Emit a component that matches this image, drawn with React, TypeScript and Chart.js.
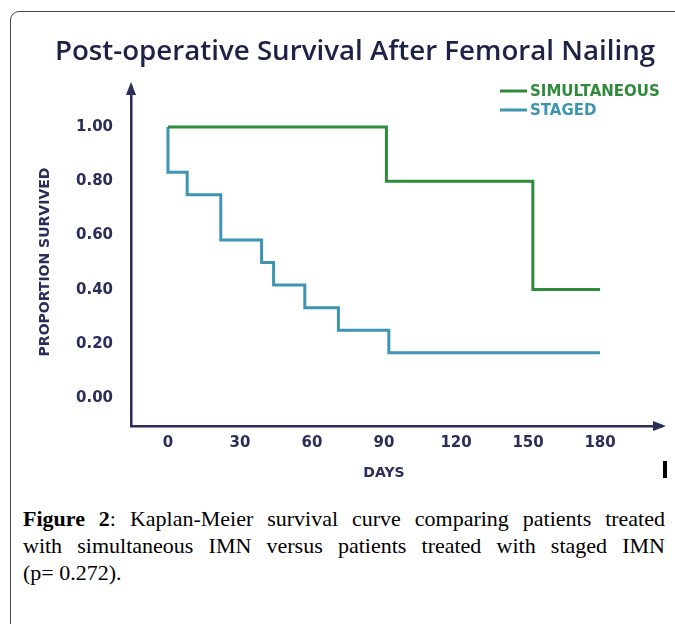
import React, { useEffect, useRef } from "react";
import { Chart, registerables } from "chart.js";

Chart.register(...registerables);

const chartTitle = "Post-operative Survival After Femoral Nailing";
const xAxisTitle = "DAYS";
const yAxisTitle = "PROPORTION SURVIVED";
const xTickValues = [0, 30, 60, 90, 120, 150, 180];
const yTickValues = [0, 0.2, 0.4, 0.6, 0.8, 1.0];
const seriesLabels = ["SIMULTANEOUS", "STAGED"];
const simultaneousDays = [0, 91, 152, 180];
const simultaneousSurvival = [1.0, 0.8, 0.4, 0.4];
const stagedDays = [0, 0, 8, 22, 39, 44, 57, 71, 92, 180];
const stagedSurvival = [1.0, 0.833, 0.75, 0.583, 0.5, 0.417, 0.333, 0.25, 0.167, 0.167];

const AXIS = "#2b2d5a";
const TITLE = "#1f2247";
const GREEN = "#2f8a3b";
const TEAL = "#3e95b2";
const FONT = '"DejaVu Sans", sans-serif';

const decorPlugin = {
  id: "decor",
  afterDraw(chart: any) {
    const { ctx, chartArea: a } = chart;
    ctx.save();
    ctx.fillStyle = AXIS;
    // y-axis arrow
    ctx.beginPath();
    ctx.moveTo(a.left, a.top - 4);
    ctx.lineTo(a.left - 5, a.top + 9);
    ctx.lineTo(a.left + 5, a.top + 9);
    ctx.closePath();
    ctx.fill();
    // x-axis arrow
    ctx.beginPath();
    ctx.moveTo(a.right + 4, a.bottom);
    ctx.lineTo(a.right - 9, a.bottom - 5);
    ctx.lineTo(a.right - 9, a.bottom + 5);
    ctx.closePath();
    ctx.fill();

    // axis titles
    ctx.font = "bold 14px " + FONT;
    ctx.fillStyle = AXIS;
    ctx.textAlign = "center";
    ctx.textBaseline = "middle";
    ctx.fillText(xAxisTitle, 384, 473);
    ctx.save();
    ctx.translate(45, 262);
    ctx.rotate(-Math.PI / 2);
    ctx.fillText(yAxisTitle, 0, 0);
    ctx.restore();

    // title, fitted to the width it has in the figure
    let size = 27;
    ctx.font = `600 ${size}px "Open Sans", sans-serif`;
    const w = ctx.measureText(chartTitle).width;
    size = Math.min(30, Math.max(22, (size * 600) / w));
    ctx.font = `600 ${size.toFixed(1)}px "Open Sans", sans-serif`;
    ctx.fillStyle = TITLE;
    ctx.textAlign = "center";
    ctx.textBaseline = "middle";
    ctx.fillText(chartTitle, 355, 52);

    // legend
    chart.data.datasets.forEach((ds: any, i: number) => {
      const y = 91 + i * 19;
      ctx.strokeStyle = ds.borderColor;
      ctx.lineWidth = 3;
      ctx.beginPath();
      ctx.moveTo(500, y);
      ctx.lineTo(527, y);
      ctx.stroke();
      ctx.fillStyle = ds.borderColor;
      ctx.font = "bold 15px " + FONT;
      ctx.textAlign = "left";
      ctx.textBaseline = "middle";
      ctx.fillText(ds.label, 530, y + 1);
    });
    ctx.restore();
  },
};

export default function App() {
  const ref = useRef<HTMLCanvasElement>(null);

  useEffect(() => {
    if (!ref.current) return;
    const chart = new Chart(ref.current, {
      type: "line",
      data: {
        datasets: [
          {
            label: seriesLabels[0],
            data: simultaneousDays.map((d, i) => ({ x: d, y: simultaneousSurvival[i] })),
            borderColor: GREEN,
            backgroundColor: GREEN,
            borderWidth: 3,
            stepped: "before",
            pointRadius: 0,
            fill: false,
            borderJoinStyle: "miter",
          },
          {
            label: seriesLabels[1],
            data: stagedDays.map((d, i) => ({ x: d, y: stagedSurvival[i] })),
            borderColor: TEAL,
            backgroundColor: TEAL,
            borderWidth: 3,
            stepped: "before",
            pointRadius: 0,
            fill: false,
            borderJoinStyle: "miter",
          },
        ],
      },
      options: {
        responsive: false,
        animation: false,
        events: [],
        layout: { padding: { top: 86, right: 13, left: 0, bottom: 0 } },
        plugins: {
          legend: { display: false },
          title: { display: false },
          tooltip: { enabled: false },
        },
        scales: {
          x: {
            type: "linear",
            min: -15.4,
            max: 205.8,
            afterFit: (s: any) => {
              s.height = 74;
            },
            afterBuildTicks: (s: any) => {
              s.ticks = xTickValues.map((v) => ({ value: v }));
            },
            grid: { display: false, drawTicks: false },
            border: { display: true, color: AXIS, width: 2.5 },
            ticks: {
              padding: 8,
              color: AXIS,
              font: { family: FONT, weight: "bold", size: 15 },
              callback: (v: any) => String(v),
              maxRotation: 0,
            },
            title: { display: false, text: xAxisTitle },
          },
          y: {
            type: "linear",
            min: -0.103,
            max: 1.151,
            afterFit: (s: any) => {
              s.width = 131;
            },
            afterBuildTicks: (s: any) => {
              s.ticks = yTickValues.map((v) => ({ value: v }));
            },
            grid: { display: false, drawTicks: false },
            border: { display: true, color: AXIS, width: 2.5 },
            ticks: {
              padding: 18,
              color: AXIS,
              font: { family: FONT, weight: "bold", size: 15 },
              callback: (v: any) => Number(v).toFixed(2),
            },
            title: { display: false, text: yAxisTitle },
          },
        },
      },
      plugins: [decorPlugin],
    } as any);
    return () => chart.destroy();
  }, []);

  return (
    <div
      style={{
        position: "fixed",
        left: 0,
        top: 0,
        width: 675,
        height: 624,
        overflow: "hidden",
        background: "#fff",
      }}
    >
      <div
        style={{
          position: "absolute",
          left: 10,
          top: 11,
          width: 720,
          height: 700,
          border: "1.5px solid #444",
          borderTopLeftRadius: 9,
          boxSizing: "border-box",
        }}
      />
      <canvas
        ref={ref}
        width={675}
        height={500}
        style={{ position: "absolute", left: 0, top: 0 }}
      />
      <div
        style={{
          position: "absolute",
          left: 663,
          top: 461,
          width: 4,
          height: 17,
          background: "#000",
        }}
      />
      <div
        style={{
          position: "absolute",
          left: 23,
          top: 505,
          width: 642,
          fontFamily: '"Liberation Serif", "Times New Roman", serif',
          fontSize: 22,
          lineHeight: "27px",
          color: "#000",
        }}
      >
        <div style={{ textAlign: "justify", textAlignLast: "justify" }}>
          <b>Figure 2</b>: Kaplan-Meier survival curve comparing patients treated
        </div>
        <div style={{ textAlign: "justify", textAlignLast: "justify" }}>
          with simultaneous IMN versus patients treated with staged IMN
        </div>
        <div>(p= 0.272).</div>
      </div>
    </div>
  );
}
